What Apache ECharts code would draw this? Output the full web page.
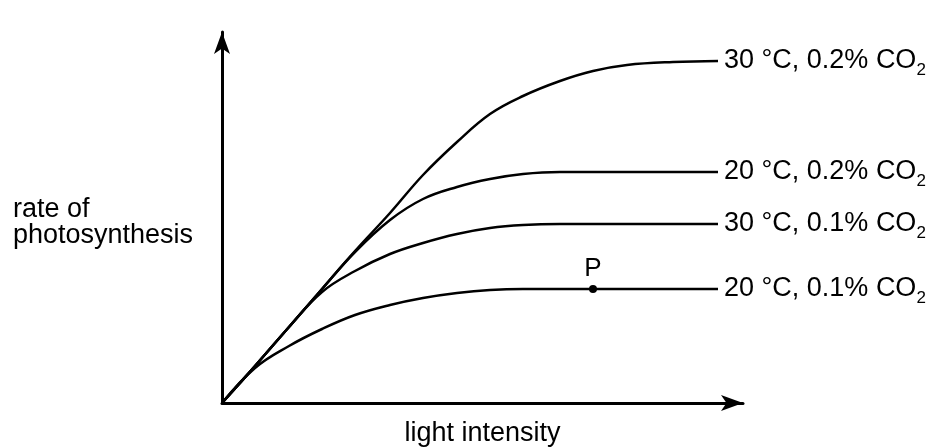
<!DOCTYPE html>
<html>
<head>
<meta charset="utf-8">
<script src="https://cdn.jsdelivr.net/npm/echarts@6/dist/echarts.min.js"></script>
<style>
  html, body { margin: 0; padding: 0; background: #fff; }
  #chart { width: 935px; height: 447px; }
</style>
</head>
<body>
<div id="chart"></div>
<script>
// values (arbitrary units)
const lightX = [0, 33, 67, 100, 133, 168, 201, 235, 268, 301, 338, 371, 405, 451, 496];
const rate30High = [0, 37, 76, 114, 152, 190, 228, 261, 289, 307, 322, 332, 338, 341, 342];
const rate20High = [0, 37, 76, 114, 151, 183, 204, 216, 224, 229, 231, 231, 231, 231, 231];
const rate30Low = [0, 37, 76, 111, 132, 149, 160, 169, 175, 178, 179, 179, 179, 179, 179];
const rate20Low = [0, 35, 57, 74, 88, 98, 105, 110, 113, 114, 114, 114, 114, 114, 114];
const pointP = [[371, 114]];

const labels = ['30 °C, 0.2% CO', '20 °C, 0.2% CO', '30 °C, 0.1% CO', '20 °C, 0.1% CO'];
const curves = [rate30High, rate20High, rate30Low, rate20Low];

const font = "'Liberation Sans', Arial, sans-serif";

const chart = echarts.init(document.getElementById('chart'));

const series = curves.map((rates, i) => ({
  type: 'line',
  data: lightX.map((x, j) => [x, rates[j]]),
  smooth: 0.4,
  showSymbol: false,
  lineStyle: { color: '#000', width: 2.5 },
  endLabel: {
    show: true,
    distance: 6,
    formatter: labels[i] + '{sub|2}',
    color: '#000',
    fontFamily: font,
    fontSize: 27,
    rich: {
      sub: { fontSize: 17, fontFamily: font, color: '#000', verticalAlign: 'bottom', padding: [18, 0, 0, 0] }
    }
  }
}));

series.push({
  type: 'scatter',
  data: pointP,
  symbolSize: 8,
  itemStyle: { color: '#000', opacity: 1 },
  label: {
    show: true,
    formatter: 'P',
    position: 'top',
    distance: 3,
    color: '#000',
    fontFamily: font,
    fontSize: 26
  }
});

chart.setOption({
  animation: false,
  backgroundColor: '#fff',
  grid: { left: 222, right: 192, top: 32, bottom: 44, outerBoundsMode: 'none' },
  xAxis: {
    type: 'value',
    min: 0,
    max: 521,
    name: 'light intensity',
    nameLocation: 'middle',
    nameGap: 17,
    nameTextStyle: { color: '#000', fontFamily: font, fontSize: 27, verticalAlign: 'top' },
    axisLine: { lineStyle: { color: '#000', width: 3 }, symbol: ['none', 'arrow'], symbolSize: [12, 22] },
    axisTick: { show: false },
    axisLabel: { show: false },
    splitLine: { show: false }
  },
  yAxis: {
    type: 'value',
    min: 0,
    max: 371,
    axisLine: { show: true, lineStyle: { color: '#000', width: 3 }, symbol: ['none', 'arrow'], symbolSize: [12, 22] },
    axisTick: { show: false },
    axisLabel: { show: false },
    splitLine: { show: false }
  },
  graphic: [{
    type: 'text',
    left: 13,
    top: 196,
    style: {
      text: 'rate of\nphotosynthesis',
      fill: '#000',
      font: '27px ' + font,
      lineHeight: 26
    }
  }],
  series: series
});
</script>
</body>
</html>
